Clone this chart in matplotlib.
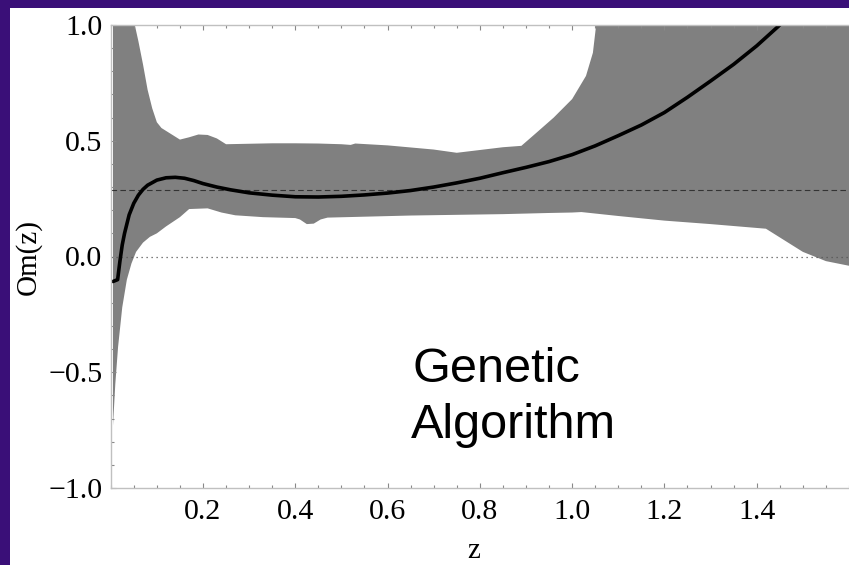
import numpy as np
import matplotlib
matplotlib.use("Agg")
import matplotlib.pyplot as plt
from matplotlib.patches import Rectangle
from matplotlib.ticker import MultipleLocator

# --- dati ---
z_curve = [0.005, 0.015, 0.02, 0.025, 0.03, 0.04, 0.05, 0.06, 0.07, 0.08,
           0.10, 0.12, 0.14, 0.16, 0.18, 0.20, 0.23, 0.26, 0.30, 0.35,
           0.40, 0.45, 0.50, 0.55, 0.60, 0.65, 0.70, 0.75, 0.80, 0.85,
           0.90, 0.95, 1.00, 1.05, 1.10, 1.15, 1.20, 1.25, 1.30, 1.35,
           1.40, 1.45, 1.50]
om_curve = [-0.108, -0.10, -0.02, 0.05, 0.10, 0.18, 0.23, 0.265, 0.29, 0.308,
            0.33, 0.34, 0.342, 0.338, 0.328, 0.315, 0.30, 0.288, 0.275, 0.265,
            0.258, 0.257, 0.26, 0.266, 0.274, 0.285, 0.30, 0.318, 0.338, 0.362,
            0.385, 0.41, 0.44, 0.478, 0.522, 0.568, 0.622, 0.688, 0.758, 0.83,
            0.91, 1.00, 1.10]

z_upper = [0.005, 0.05, 0.06, 0.07, 0.08, 0.09, 0.10, 0.11, 0.13, 0.15,
           0.17, 0.19, 0.21, 0.23, 0.25, 0.30, 0.35, 0.40, 0.45, 0.50,
           0.52, 0.53, 0.60, 0.70, 0.75, 0.80, 0.85, 0.89, 0.92, 0.96,
           1.00, 1.03, 1.045, 1.055, 1.10, 1.65]
om_upper = [2.0, 1.02, 0.93, 0.83, 0.72, 0.64, 0.58, 0.555, 0.53, 0.505,
            0.515, 0.527, 0.525, 0.51, 0.485, 0.487, 0.489, 0.489, 0.488, 0.485,
            0.482, 0.488, 0.48, 0.462, 0.448, 0.46, 0.472, 0.478, 0.53, 0.60,
            0.68, 0.78, 0.88, 1.05, 2.0, 2.0]

z_lower = [0.005, 0.010, 0.016, 0.025, 0.035, 0.045, 0.055, 0.07, 0.085, 0.10,
           0.12, 0.15, 0.17, 0.21, 0.24, 0.27, 0.33, 0.40, 0.41, 0.425,
           0.44, 0.455, 0.47, 0.55, 0.65, 0.75, 0.85, 0.95, 1.00, 1.02,
           1.10, 1.20, 1.30, 1.42, 1.46, 1.50, 1.55, 1.65]
om_lower = [-0.73, -0.55, -0.39, -0.22, -0.10, -0.03, 0.02, 0.06, 0.085, 0.10,
            0.13, 0.17, 0.205, 0.208, 0.19, 0.178, 0.17, 0.166, 0.16, 0.14,
            0.142, 0.16, 0.168, 0.172, 0.177, 0.18, 0.183, 0.188, 0.19, 0.192,
            0.175, 0.155, 0.14, 0.12, 0.07, 0.02, -0.02, -0.06]

om_fiducial = 0.288

# --- figura ---
fig = plt.figure(figsize=(8.49, 5.65), dpi=100)
fig.patch.set_facecolor("#3a0f78")
pannello = Rectangle((10/849, 0), 1 - 10/849, (565-8)/565,
                     transform=fig.transFigure, facecolor="white",
                     edgecolor="none", zorder=-10)
fig.add_artist(pannello)

ax = fig.add_axes([110.7/849, 77/565, 1 - 110.7/849, 463/565])
ax.set_facecolor("none")

# banda di confidenza
band_z = list(z_upper) + list(z_lower[::-1])
band_om = list(om_upper) + list(om_lower[::-1])
ax.fill(band_z, band_om, color="#808080", linewidth=0, zorder=1)

ax.axhline(om_fiducial, color="#333333", linewidth=0.8, linestyle=(0, (5, 3)), zorder=2)
ax.axhline(0, color="#555555", linewidth=0.9, linestyle=(0, (1, 3)), zorder=2)

ax.plot(z_curve, om_curve, color="black", linewidth=2.6, zorder=3,
        solid_capstyle="round")

ax.set_xlim(0, 1.6)
ax.set_ylim(-1.0, 1.0)

for s in ["left", "bottom", "top"]:
    ax.spines[s].set_color("#c0c0c0")
    ax.spines[s].set_linewidth(1.0)
    ax.spines[s].set_zorder(4)
ax.spines["right"].set_visible(False)

ax.xaxis.set_major_locator(MultipleLocator(0.2))
ax.xaxis.set_minor_locator(MultipleLocator(0.05))
ax.yaxis.set_major_locator(MultipleLocator(0.5))
ax.yaxis.set_minor_locator(MultipleLocator(0.1))
ax.set_xticks([0.2, 0.4, 0.6, 0.8, 1.0, 1.2, 1.4])
ax.set_xticklabels(["0.2", "0.4", "0.6", "0.8", "1.0", "1.2", "1.4"])
ax.set_yticks([-1.0, -0.5, 0.0, 0.5, 1.0])
ax.set_yticklabels(["\u22121.0", "\u22120.5", "0.0", "0.5", "1.0"])

ax.tick_params(which="both", direction="in", top=True, right=False,
               color="#888888", width=0.8)
ax.tick_params(which="major", length=3.5)
ax.tick_params(which="minor", length=2.0)
ax.tick_params(axis="y", which="major", pad=6)
ax.tick_params(axis="x", which="major", pad=8)
for lab in ax.get_xticklabels() + ax.get_yticklabels():
    lab.set_fontfamily("Liberation Serif")
    lab.set_fontsize(21.5)

fig.text(28/849, (565-257)/565, "Om(z)", rotation=90, ha="center", va="center",
         fontsize=21, family="Liberation Serif")
fig.text(474/849, (565-551)/565, "z", ha="center", va="center",
         fontsize=21, family="Liberation Serif")

ax.text(0.655, -0.544, "Genetic", fontsize=35, family="Liberation Sans",
        ha="left", va="baseline", zorder=5)
ax.text(0.651, -0.782, "Algorithm", fontsize=35, family="Liberation Sans",
        ha="left", va="baseline", zorder=5)

fig.savefig("out.png", dpi=100, facecolor=fig.get_facecolor())
